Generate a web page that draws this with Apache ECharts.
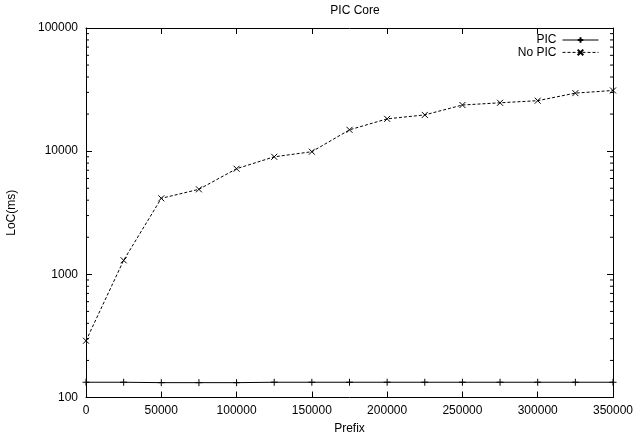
<!DOCTYPE html>
<html>
<head>
<meta charset="utf-8">
<script src="https://cdn.jsdelivr.net/npm/echarts@6/dist/echarts.min.js"></script>
<style>html,body{margin:0;padding:0;background:#fff}#c{width:636px;height:438px}</style>
</head>
<body>
<div id="c"></div>
<script>
var prefixes = [0, 25000, 50000, 75000, 100000, 125000, 150000, 175000, 200000, 225000, 250000, 275000, 300000, 325000, 350000];
var picValues = [133, 133, 132, 132, 132, 133, 133, 133, 133, 133, 133, 133, 133, 133, 133];
var noPicValues = [289, 1300, 4140, 4900, 7200, 9000, 9900, 14900, 18300, 19700, 23700, 24700, 25700, 29600, 31100];
var minorTickValues = [200,300,400,500,600,700,800,900,2000,3000,4000,5000,6000,7000,8000,9000,20000,30000,40000,50000,60000,70000,80000,90000];

var FONT = 'Liberation Sans';
var chart = echarts.init(document.getElementById('c'), null, {renderer: 'canvas'});

function pairs(xs, ys) { return xs.map(function (x, i) { return [x, ys[i]]; }); }
function plain(v) { return String(Math.round(v)); }

var plusPath = 'path://M0,5L10,5M5,0L5,10';
var crossPath = 'path://M0,0L10,10M10,0L0,10';

var axisLine = {show: true, onZero: false, lineStyle: {color: '#000', width: 1}};
var option = {
  animation: false,
  backgroundColor: '#fff',
  title: {
    text: 'PIC Core', left: 350, top: 0, textAlign: 'center',
    textStyle: {fontFamily: FONT, fontSize: 12, fontWeight: 'normal', color: '#000'}
  },
  legend: {
    data: ['PIC', 'No PIC'],
    orient: 'vertical', right: 32, top: 29, align: 'right',
    itemWidth: 36, itemHeight: 7, itemGap: 0.4,
    lineStyle: {width: 1},
    textStyle: {fontFamily: FONT, fontSize: 12, lineHeight: 12, color: '#000', padding: [0, 1, 0, 0]}
  },
  grid: {left: 86, right: 23, top: 28, bottom: 40.5, containLabel: false, outerBoundsMode: 'none'},
  xAxis: [{
    type: 'value', min: 0, max: 350000, interval: 50000, position: 'bottom',
    name: 'Prefix', nameLocation: 'middle', nameGap: 25,
    nameTextStyle: {fontFamily: FONT, fontSize: 12, color: '#000'},
    axisLine: axisLine,
    axisTick: {show: true, inside: true, length: 6, lineStyle: {color: '#000'}},
    axisLabel: {fontFamily: FONT, fontSize: 12, color: '#000', margin: 7, formatter: plain},
    splitLine: {show: false}
  }, {
    type: 'value', min: 0, max: 350000, interval: 50000, position: 'top',
    axisLine: axisLine,
    axisTick: {show: true, inside: true, length: 6, lineStyle: {color: '#000'}},
    axisLabel: {show: false}, splitLine: {show: false}
  }],
  yAxis: [{
    type: 'log', logBase: 10, min: 100, max: 100000, position: 'left',
    name: 'LoC(ms)', nameLocation: 'middle', nameGap: 68, nameRotate: 90,
    nameTextStyle: {fontFamily: FONT, fontSize: 12, color: '#000'},
    axisLine: axisLine,
    axisTick: {show: true, inside: true, length: 6, lineStyle: {color: '#000'}},
    axisLabel: {fontFamily: FONT, fontSize: 12, color: '#000', margin: 8, formatter: plain},
    splitLine: {show: false}
  }, {
    type: 'log', logBase: 10, min: 100, max: 100000, position: 'right',
    axisLine: axisLine,
    axisTick: {show: true, inside: true, length: 6, lineStyle: {color: '#000'}},
    axisLabel: {show: false}, splitLine: {show: false}
  }],
  series: [{
    name: 'PIC', type: 'line', data: pairs(prefixes, picValues),
    symbol: plusPath, symbolSize: 7, showSymbol: true,
    lineStyle: {color: '#000', width: 1, type: 'solid'},
    itemStyle: {color: '#000', borderColor: '#000', borderWidth: 1}
  }, {
    name: 'No PIC', type: 'line', data: pairs(prefixes, noPicValues),
    symbol: crossPath, symbolSize: 6, showSymbol: true,
    lineStyle: {color: '#000', width: 1, type: [3, 2]},
    itemStyle: {color: '#000', borderColor: '#000', borderWidth: 1}
  }, {
    name: 'minorTicks', type: 'custom', silent: true,
    data: minorTickValues.map(function (v) { return [0, v]; }),
    encode: {x: 0, y: 1},
    renderItem: function (params, api) {
      var v = api.value(1);
      var l = api.coord([0, v]);
      var r = api.coord([350000, v]);
      var st = {stroke: '#000', lineWidth: 1};
      return {type: 'group', children: [
        {type: 'line', shape: {x1: l[0], y1: l[1], x2: l[0] + 3, y2: l[1]}, style: st},
        {type: 'line', shape: {x1: r[0] - 3, y1: r[1], x2: r[0], y2: r[1]}, style: st}
      ]};
    }
  }]
};
chart.setOption(option);
</script>
</body>
</html>
